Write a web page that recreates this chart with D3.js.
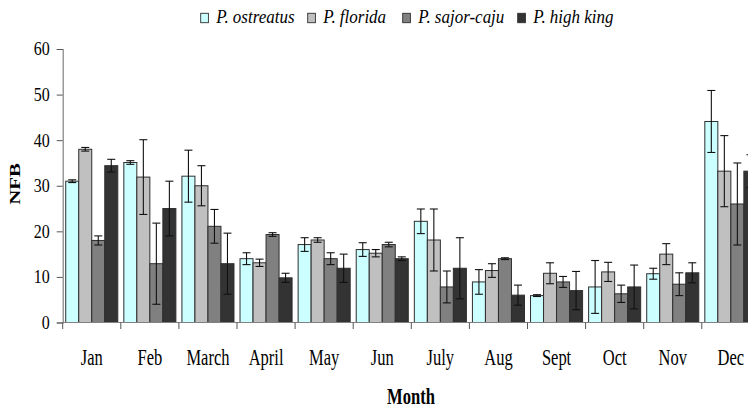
<!DOCTYPE html>
<html>
<head>
<meta charset="utf-8">
<script src="https://cdn.jsdelivr.net/npm/d3@7"></script>
<style>
  html, body { margin: 0; padding: 0; background: #fff; }
  svg { display: block; }
</style>
</head>
<body>
<svg id="chart" width="748" height="408"></svg>
<script>
// ---- data ----
const months = ["Jan", "Feb", "March", "April", "May", "Jun", "July", "Aug", "Sept", "Oct", "Nov", "Dec"];
const seriesNames = ["P. ostreatus", "P. florida", "P. sajor-caju", "P. high king"];
const ostreatus    = [31.0, 35.1, 32.1, 14.0, 17.1, 16.0, 22.2, 8.9, 5.9, 7.8, 10.7, 44.1];
const ostreatusErr = [0.3, 0.4, 5.7, 1.3, 1.5, 1.5, 2.7, 2.7, 0.2, 5.8, 1.2, 6.8];
const florida      = [38.0, 31.9, 30.0, 13.1, 18.1, 15.2, 18.1, 11.4, 10.8, 11.1, 15.0, 33.2];
const floridaErr   = [0.4, 8.2, 4.4, 0.8, 0.5, 0.8, 6.8, 1.5, 2.3, 2.1, 2.3, 7.8];
const sajorCaju    = [18.0, 12.9, 21.1, 19.3, 14.0, 17.1, 7.8, 14.0, 8.9, 6.3, 8.4, 26.0];
const sajorCajuErr = [1.0, 8.9, 3.7, 0.4, 1.3, 0.5, 3.5, 0.2, 1.2, 1.9, 2.5, 9.0];
const highKing     = [34.4, 25.0, 12.9, 9.8, 11.9, 14.0, 11.9, 6.0, 7.0, 7.8, 10.9, 33.2];
const highKingErr  = [1.4, 6.0, 6.7, 1.0, 3.1, 0.4, 6.7, 2.2, 4.2, 4.8, 2.2, 3.6];
const yTicks = [0, 10, 20, 30, 40, 50, 60];

// ---- styles / layout ----
const FONT = "'Liberation Serif', 'Times New Roman', serif";
const colors = ["#ccffff", "#c0c0c0", "#808080", "#333333"];
const values = [ostreatus, florida, sajorCaju, highKing];
const errors = [ostreatusErr, floridaErr, sajorCajuErr, highKingErr];

const svg = d3.select("#chart");
const left = 62.7, step = 58.1;
const y0 = 322.5, yTop = 49;

const x0 = d3.scaleBand().domain(months).range([left, left + step * months.length]).padding(0);
const x1 = d3.scaleBand().domain(seriesNames).range([0.052 * step, 0.948 * step]).padding(0);
const y = d3.scaleLinear().domain([0, 60]).range([y0, yTop]);

const rows = [];
months.forEach((m, i) => {
  seriesNames.forEach((s, j) => {
    rows.push({ month: m, series: s, j: j, v: values[j][i], e: errors[j][i] });
  });
});

// bars
svg.append("g").selectAll("rect").data(rows).join("rect")
  .attr("x", d => x0(d.month) + x1(d.series))
  .attr("y", d => y(d.v))
  .attr("width", x1.bandwidth())
  .attr("height", d => y(0) - y(d.v))
  .attr("fill", d => colors[d.j])
  .attr("stroke", "#2e2e2e")
  .attr("stroke-width", 1);

// error bars
const eg = svg.append("g").attr("stroke", "#111").attr("stroke-width", 1.1);
rows.forEach(d => {
  const cx = x0(d.month) + x1(d.series) + x1.bandwidth() / 2;
  const hi = y(d.v + d.e), lo = y(d.v - d.e);
  eg.append("line").attr("x1", cx).attr("x2", cx).attr("y1", hi).attr("y2", lo);
  eg.append("line").attr("x1", cx - 4).attr("x2", cx + 4).attr("y1", hi).attr("y2", hi);
  eg.append("line").attr("x1", cx - 4).attr("x2", cx + 4).attr("y1", lo).attr("y2", lo);
});

// y axis
const yAxis = svg.append("g").attr("transform", `translate(${left},0)`)
  .call(d3.axisLeft(y).tickValues(yTicks).tickSize(6).tickPadding(7).tickFormat(d3.format("d")));
yAxis.attr("font-family", null).attr("font-size", null);
yAxis.select(".domain").attr("stroke", "#808080").attr("stroke-width", 1.2);
yAxis.selectAll(".tick line").attr("stroke", "#555");
yAxis.selectAll(".tick text")
  .style("font-family", FONT)
  .style("font-size", "16px")
  .attr("fill", "#000")
  .attr("transform", "scale(1,1.15)");

// x axis line and boundary ticks
const xEnd = left + step * months.length;
svg.append("line").attr("x1", left).attr("x2", xEnd).attr("y1", y0).attr("y2", y0)
  .attr("stroke", "#808080").attr("stroke-width", 1.2);
svg.append("g").selectAll("line").data(months).join("line")
  .attr("x1", d => x0(d)).attr("x2", d => x0(d))
  .attr("y1", y0).attr("y2", y0 + 6.5)
  .attr("stroke", "#555");

// month labels
svg.append("g").selectAll("text").data(months).join("text")
  .attr("transform", d => `translate(${x0(d) + x0.bandwidth() / 2},365) scale(1,1.38)`)
  .attr("text-anchor", "middle")
  .style("font-family", FONT)
  .style("font-size", "16.5px")
  .text(d => d);

// axis titles
svg.append("text")
  .attr("transform", "translate(411,404) scale(1,1.4)")
  .attr("text-anchor", "middle")
  .style("font-family", FONT)
  .style("font-size", "16.6px")
  .style("font-weight", "bold")
  .text("Month");

svg.append("text")
  .attr("transform", "translate(19.5,184) rotate(-90) scale(1.39,1)")
  .attr("text-anchor", "middle")
  .style("font-family", FONT)
  .style("font-size", "15px")
  .style("font-weight", "bold")
  .text("NFB");

// legend
const legendX = [200.7, 307.7, 402.7, 517.7];
const lg = svg.append("g");
seriesNames.forEach((s, j) => {
  lg.append("rect")
    .attr("x", legendX[j]).attr("y", 13.3)
    .attr("width", 7.7).attr("height", 9.4)
    .attr("fill", colors[j]).attr("stroke", "#2e2e2e").attr("stroke-width", 0.9);
  lg.append("text")
    .attr("transform", `translate(${legendX[j] + 15.5},23) scale(1,1.15)`)
    .style("font-family", FONT)
    .style("font-size", "17px")
    .style("font-style", "italic")
    .text(s);
});
</script>
</body>
</html>
